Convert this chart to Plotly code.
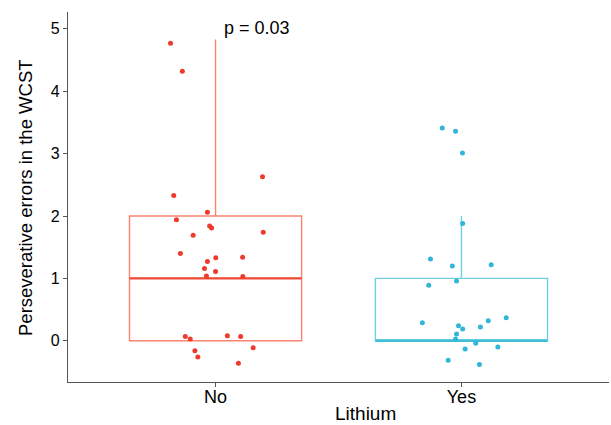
import plotly.graph_objects as go

categories = ["No", "Yes"]
cat_pos = [1, 2]

# Box statistics
q1 = [0.0, 0.0]
median = [1.0, 0.0]
q3 = [2.0, 1.0]
lower_fence = [0.0, 0.0]
upper_fence = [4.83, 2.0]

# Jittered points (values as displayed, and horizontal jitter offsets)
no_values = [4.77, 4.32, 2.63, 2.33, 2.06, 1.94, 1.84, 1.81, 1.69, 1.74, 1.40, 1.33, 1.34,
             1.27, 1.16, 1.11, 1.04, 1.03, 0.07, 0.03, 0.08, 0.07, -0.11, -0.16, -0.26, -0.36]
no_jitter = [-0.183, -0.135, 0.191, -0.170, -0.033, -0.159, -0.024, -0.016, -0.091, 0.194,
             -0.143, 0.001, 0.110, -0.033, -0.045, 0.0, -0.037, 0.111, -0.123, -0.103,
             0.048, 0.102, 0.153, -0.084, -0.072, 0.093]
yes_values = [3.41, 3.36, 3.01, 1.88, 1.31, 1.20, 1.22, 0.89, 0.96, 0.29, 0.24, 0.19, 0.32,
              0.37, 0.22, 0.11, 0.03, -0.04, -0.10, -0.13, -0.31, -0.38]
yes_jitter = [-0.078, -0.024, 0.004, 0.005, -0.126, -0.037, 0.121, -0.133, -0.020, -0.159,
              -0.012, 0.005, 0.109, 0.182, 0.077, -0.020, -0.024, 0.058, 0.148, 0.015,
              -0.054, 0.073]

p_label = "p = 0.03"
x_title = "Lithium"
y_title = "Perseverative errors in the WCST"

box_colors = ["#F8836F", "#6FD0E2"]
median_colors = ["#EE4A35", "#40BDD8"]
point_colors = ["#EE3B2E", "#2FB6D9"]
box_width = 0.7

W, H = 611, 425
L, R, T, B = 68, 2, 12, 43
pw, ph = W - L - R, H - T - B

fig = go.Figure()
for i in range(2):
    fig.add_trace(go.Box(
        x=[cat_pos[i]], q1=[q1[i]], median=[median[i]], q3=[q3[i]],
        lowerfence=[lower_fence[i]], upperfence=[upper_fence[i]],
        width=box_width, whiskerwidth=0, boxpoints=False,
        line=dict(color=box_colors[i], width=1.4),
        fillcolor="rgba(255,255,255,0)", showlegend=False,
    ))
    fig.add_trace(go.Scatter(
        x=[cat_pos[i] - box_width / 2, cat_pos[i] + box_width / 2],
        y=[median[i], median[i]], mode="lines",
        line=dict(color=median_colors[i], width=2.2), showlegend=False,
    ))

for pos, vals, jit, col in [(1, no_values, no_jitter, point_colors[0]),
                            (2, yes_values, yes_jitter, point_colors[1])]:
    fig.add_trace(go.Scatter(
        x=[pos + j for j in jit], y=vals, mode="markers",
        marker=dict(color=col, size=5), showlegend=False,
    ))

fig.add_annotation(x=1.168, y=5.02, text=p_label, showarrow=False,
                   font=dict(size=18, color="black"))
fig.add_annotation(x=(365 - L) / pw, y=-(413 - (H - B)) / ph, xref="x domain", yref="y domain",
                   xanchor="center", yanchor="middle", text=x_title, showarrow=False,
                   font=dict(size=19, color="black"))
fig.add_annotation(x=(25 - L) / pw, y=(H - B - 198) / ph, xref="x domain", yref="y domain",
                   xanchor="center", yanchor="middle", text=y_title, textangle=-90,
                   showarrow=False, font=dict(size=18.5, color="black"))

axis_col = "#555555"
fig.update_layout(
    width=W, height=H,
    margin=dict(l=L, r=R, t=T, b=B),
    plot_bgcolor="white", paper_bgcolor="white",
    font=dict(family="Liberation Sans, Arial, sans-serif", color="black"),
    xaxis=dict(range=[0.4, 2.6], tickvals=cat_pos, ticktext=categories, automargin=False,
               showgrid=False, zeroline=False, showline=True, linecolor=axis_col,
               linewidth=1.2, ticks="outside", ticklen=4, tickcolor=axis_col,
               ticklabelstandoff=-6,
               tickfont=dict(size=18, color="black")),
    yaxis=dict(range=[-0.66, 5.27], tickvals=[0, 1, 2, 3, 4, 5], automargin=False,
               showgrid=False, zeroline=False, showline=True, linecolor=axis_col,
               linewidth=1.2, ticks="outside", ticklen=4, tickcolor=axis_col,
               tickfont=dict(size=16, color="black")),
)

fig.write_html("out.html", config={"displayModeBar": False},
               post_script="document.body.style.margin='0';")
